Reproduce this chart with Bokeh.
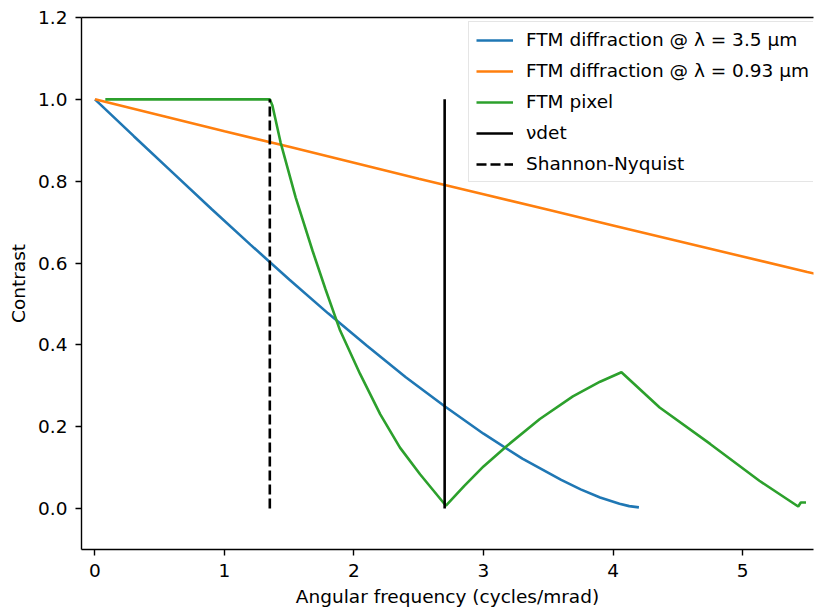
from bokeh.plotting import figure
from bokeh.models import Range1d, FixedTicker, PrintfTickFormatter, Legend, LegendItem, LinearAxis
from bokeh.embed import file_html
from bokeh.resources import INLINE

# ---- data ----
freq_blue = [0.0, 0.3, 0.6, 0.9, 1.2, 1.5, 1.8, 2.1, 2.4, 2.7, 3.0, 3.3, 3.6, 3.75, 3.9, 4.05, 4.125, 4.2]
mtf_blue = [1.0, 0.910, 0.821, 0.732, 0.645, 0.560, 0.477, 0.398, 0.321, 0.250, 0.183, 0.122,
            0.070, 0.047, 0.027, 0.012, 0.006, 0.003]

freq_orange = [0.0, 0.5, 1.0, 1.5, 2.0, 2.5, 3.0, 3.5, 4.0, 4.5, 5.0, 5.5, 5.6]
mtf_orange = [1.0, 0.961, 0.922, 0.884, 0.845, 0.806, 0.768, 0.730, 0.692, 0.654, 0.616, 0.578, 0.571]

freq_green = [0.08, 1.35, 1.37, 1.433, 1.55, 1.68, 1.78, 1.893, 2.047, 2.202, 2.355, 2.51, 2.71,
              2.85, 3.0, 3.18, 3.435, 3.69, 3.90, 4.065, 4.36, 4.75, 5.13, 5.43, 5.45, 5.49]
mtf_green = [1.0, 1.0, 0.985, 0.895, 0.76, 0.63, 0.536, 0.435, 0.329, 0.231, 0.149, 0.084, 0.007,
             0.055, 0.103, 0.153, 0.219, 0.274, 0.310, 0.333, 0.247, 0.158, 0.068, 0.005, 0.015, 0.015]

nu_det = 2.7
nyquist = 1.35
vline_y = [0.0, 1.0]

x_ticks = [0, 1, 2, 3, 4, 5]
y_ticks = [0.0, 0.2, 0.4, 0.6, 0.8, 1.0, 1.2]

labels = ["FTM diffraction @ λ = 3.5 μm", "FTM diffraction @ λ = 0.93 μm", "FTM pixel",
          "νdet", "Shannon-Nyquist"]

FONT = "DejaVu Sans"
FS = "18.5px"

p = figure(width=814, height=610, output_backend="svg", toolbar_location=None,
           x_range=Range1d(-0.104, 5.548), y_range=Range1d(-0.1, 1.2),
           min_border_left=81, min_border_right=1, min_border_top=17, min_border_bottom=61,
           outline_line_color=None)
p.xgrid.visible = False
p.ygrid.visible = False

r_blue = p.line(freq_blue, mtf_blue, line_color="#1f77b4", line_width=2.6)
r_orange = p.line(freq_orange, mtf_orange, line_color="#ff7f0e", line_width=2.6)
r_green = p.line(freq_green, mtf_green, line_color="#2ca02c", line_width=2.6)
r_det = p.line([nu_det, nu_det], vline_y, line_color="black", line_width=2.6)
r_nyq = p.line([nyquist, nyquist], vline_y, line_color="black", line_width=2.6, line_dash="10 4")

for ax in (p.xaxis[0], p.yaxis[0]):
    ax.axis_line_color = "black"
    ax.axis_line_width = 1.4
    ax.major_tick_line_color = "black"
    ax.major_tick_line_width = 1.4
    ax.major_tick_in = 0
    ax.major_tick_out = 6
    ax.minor_tick_line_color = None
    ax.major_label_text_font = FONT
    ax.major_label_text_font_size = FS
    ax.major_label_text_color = "black"
    ax.axis_label_text_font = FONT
    ax.axis_label_text_font_size = FS
    ax.axis_label_text_font_style = "normal"
    ax.axis_label_text_color = "black"

p.xaxis[0].ticker = FixedTicker(ticks=x_ticks)
p.yaxis[0].ticker = FixedTicker(ticks=y_ticks)
p.yaxis[0].formatter = PrintfTickFormatter(format="%.1f")
p.xaxis[0].axis_label = "Angular frequency (cycles/mrad)"
p.yaxis[0].axis_label = "Contrast"
p.xaxis[0].major_label_standoff = 8
p.xaxis[0].axis_label_standoff = 6
p.yaxis[0].major_label_standoff = 8
p.yaxis[0].axis_label_standoff = 6

top = LinearAxis(ticker=FixedTicker(ticks=[]), axis_line_color="black", axis_line_width=1.4,
                 major_tick_out=0, major_tick_in=0, minor_tick_out=0, minor_tick_in=0,
                 major_label_text_font_size="0px", major_label_standoff=0)
p.add_layout(top, "above")

legend = Legend(items=[
    LegendItem(label=labels[0], renderers=[r_blue]),
    LegendItem(label=labels[1], renderers=[r_orange]),
    LegendItem(label=labels[2], renderers=[r_green]),
    LegendItem(label=labels[3], renderers=[r_det]),
    LegendItem(label=labels[4], renderers=[r_nyq]),
], location=(387, 367))
legend.label_text_font = FONT
legend.label_text_font_size = FS
legend.label_text_color = "black"
legend.glyph_width = 37
legend.glyph_height = 20
legend.label_height = 20
legend.label_standoff = 13
legend.spacing = 10
legend.padding = 7
legend.margin = 0
legend.border_line_color = "#cccccc"
legend.border_line_width = 1.4
legend.background_fill_alpha = 0.8
p.add_layout(legend)

open("out.html", "w").write(file_html(p, INLINE))
